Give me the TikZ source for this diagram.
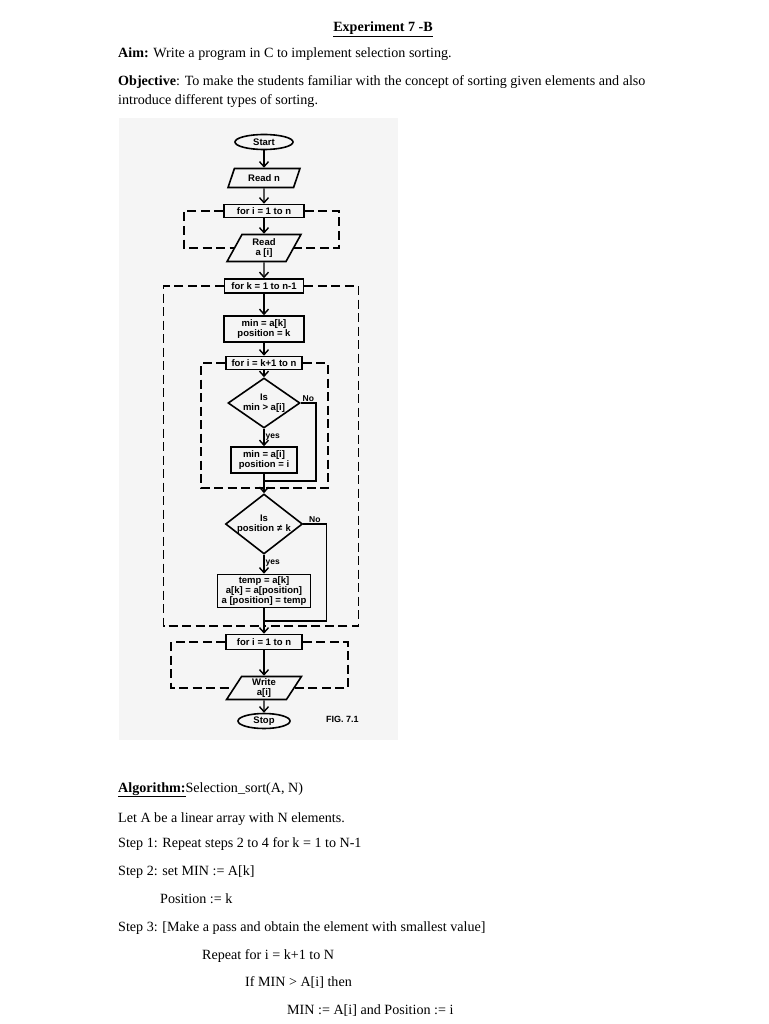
\documentclass[tikz,border=0pt]{standalone}
\usepackage{fontspec}
\setmainfont{Liberation Serif}
\newfontfamily\fcsans{Liberation Sans}
\usetikzlibrary{shapes.geometric,arrows.meta}
\begin{document}
\begin{tikzpicture}[x=1pt,y=-1pt,
  txt/.style={anchor=base west, inner sep=0pt, font=\fontsize{14.1}{16}\selectfont},
  fcbase/.style={draw, line width=1.6pt, align=center, inner sep=1pt, font=\fcsans\bfseries\fontsize{9.5}{10.3}\selectfont},
  proc/.style={fcbase, rectangle},
  io/.style={fcbase, trapezium, trapezium left angle=68, trapezium right angle=112, trapezium stretches=true},
  term/.style={fcbase, ellipse},
  dec/.style={draw, line width=1.6pt, diamond, inner sep=0pt},
  dtext/.style={align=center, inner sep=0pt, font=\fcsans\bfseries\fontsize{9.5}{10.5}\selectfont},
  arr/.style={line width=1.4pt, -{Straight Barb[length=5pt,width=9pt]}},
  flow/.style={line width=1.4pt},
  loopd/.style={line width=1.5pt, dash pattern=on 9pt off 4.5pt},
  lab/.style={font=\fcsans\bfseries\fontsize{8.5}{9}\selectfont, inner sep=1pt}
]
\useasboundingbox (0,0) rectangle (768,1024);
\fill[white] (0,0) rectangle (768,1024);
\fill[black!4] (119,118) rectangle (398,740);

% page text
\node[txt, anchor=base, font=\fontsize{14.1}{16}\selectfont\bfseries] (title) at (383,32) {\underline{Experiment 7 -B}};
\node[txt] (aim) at (118,58) {\textbf{Aim:} Write a program in C to implement selection sorting.};
\node[txt] (obj1) at (118,86) {\textbf{Objective}: To make the students familiar with the concept of sorting given elements and also};
\node[txt] (obj2) at (118,105) {introduce different types of sorting.};

\node[txt] (alg) at (118,792) {\textbf{\underline{Algorithm:}}Selection\_sort(A, N)};
\node[txt] (l1) at (118,822) {Let A be a linear array with N elements.};
\node[txt] (l2) at (118,847) {Step 1: Repeat steps 2 to 4 for k = 1 to N-1};
\node[txt] (l3) at (118,875) {Step 2: set MIN := A[k]};
\node[txt] (l4) at (160,903) {Position := k};
\node[txt] (l5) at (118,931) {Step 3: [Make a pass and obtain the element with smallest value]};
\node[txt] (l6) at (202,959) {Repeat for i = k+1 to N};
\node[txt] (l7) at (245,986) {If MIN > A[i] then};
\node[txt] (l8) at (287,1014) {MIN := A[i] and Position := i};

% flowchart nodes
\node[term, minimum width=58pt, minimum height=15pt] (start) at (264,142) {Start};
\node[io, minimum width=72pt, minimum height=19pt] (readn) at (264,178) {Read n};
\node[proc, minimum width=80pt, minimum height=13pt] (fori1) at (264,211) {for i = 1 to n};
\node[io, minimum width=74pt, minimum height=27pt] (reada) at (264,248) {Read\\a [i]};
\node[proc, minimum width=79pt, minimum height=14pt] (fork) at (264,286) {for k = 1 to n-1};
\node[proc, minimum width=80pt, minimum height=26pt] (mink) at (264,329) {min = a[k]\\position = k};
\node[proc, minimum width=76pt, minimum height=13pt] (fori2) at (264,363) {for i = k+1 to n};
\node[dec, minimum width=72pt, minimum height=50pt] (dec1) at (264,403) {};
\node[dtext] (dec1t) at (dec1) {Is\\min > a[i]};
\node[proc, minimum width=66pt, minimum height=26pt] (mini) at (264,460) {min = a[i]\\position = i};
\node[dec, minimum width=77pt, minimum height=60pt] (dec2) at (264,524) {};
\node[dtext] (dec2t) at (dec2) {Is\\position\,\,≠\,\,k};
\node[proc, minimum width=93pt, minimum height=33pt] (temp) at (264,591) {temp = a[k]\\a[k] = a[position]\\a [position] = temp};
\node[proc, minimum width=76pt, minimum height=15pt] (fori3) at (264,642) {for i = 1 to n};
\node[io, minimum width=75pt, minimum height=23pt] (write) at (264,688) {Write\\a[i]};
\node[term, minimum width=52pt, minimum height=13pt] (stop) at (264,721) {Stop};
\node[lab, anchor=west, font=\fcsans\bfseries\fontsize{9}{10}\selectfont] (fig) at (325,719) {FIG. 7.1};

\coordinate (j1) at (264,481);
\coordinate (jc) at (264,488);
\coordinate (j2) at (264,621);
\coordinate (jb) at (264,626);

% connectors
\draw[arr] (start) -- (readn);
\draw[arr] (readn) -- (fori1);
\draw[arr] (fori1) -- (reada);
\draw[arr] (reada) -- (fork);
\draw[arr] (fork) -- (mink);
\draw[arr] (mink) -- (fori2);
\draw[arr] (fori2) -- (dec1);
\draw[arr] (dec1) -- node[lab, right, pos=0.45] {yes} (mini);
\draw[flow] (mini) -- (j1);
\draw[flow] (dec1.east) -- node[lab, above] {No} ++(15,0) |- (j1);
\draw[arr] (j1) -- (dec2);
\draw[arr] (dec2) -- node[lab, right, pos=0.45] {yes} (temp);
\draw[flow] (temp) -- (j2);
\draw[flow] (dec2.east) -- node[lab, above] {No} ++(23,0) |- (j2);
\draw[arr] (j2) -- (fori3);
\draw[arr] (fori3) -- (write);
\draw[arr] (write) -- (stop);

% loop brackets
\draw[loopd] (fori1.west) -- ++(-39,0) |- (reada.west);
\draw[loopd] (fori1.east) -- ++(34,0) |- (reada.east);
\draw[loopd] (fork.west) -- ++(-60,0) |- (jb);
\draw[loopd] (fork.east) -- ++(54,0) |- (jb);
\draw[loopd] (fori2.west) -- ++(-24,0) |- (jc);
\draw[loopd] (fori2.east) -- ++(25,0) |- (jc);
\draw[loopd] (fori3.west) -- ++(-54,0) |- (write.west);
\draw[loopd] (fori3.east) -- ++(45,0) |- (write.east);
\end{tikzpicture}
\end{document}
